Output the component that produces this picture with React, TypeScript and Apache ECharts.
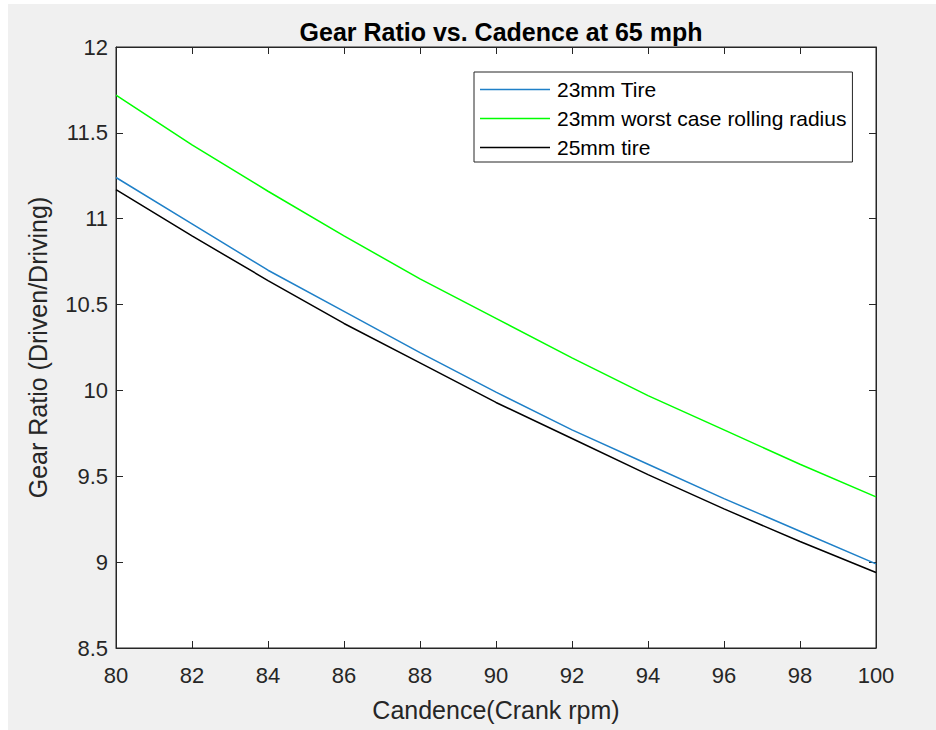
import React, { useEffect, useRef } from "react";
import * as echarts from "echarts";

const cadence = [80, 82, 84, 86, 88, 90, 92, 94, 96, 98, 100];
const tire23 = [11.24, 10.97, 10.70, 10.46, 10.22, 9.99, 9.77, 9.57, 9.37, 9.18, 8.99];
const tire23Worst = [11.72, 11.43, 11.16, 10.9, 10.65, 10.42, 10.19, 9.97, 9.77, 9.57, 9.38];
const tire25 = [11.17, 10.9, 10.64, 10.39, 10.16, 9.93, 9.72, 9.51, 9.31, 9.12, 8.94];
const seriesNames = ["23mm Tire", "23mm worst case rolling radius", "25mm tire"];

const FONT = "'Liberation Sans', Arial, Helvetica, sans-serif";
const AX = "#262626";
const BLUE = "#1f80c8";

export default function App() {
  const ref = useRef<HTMLDivElement>(null);
  useEffect(() => {
    document.body.style.margin = "0";
    const chart = echarts.init(ref.current!, null, { renderer: "svg" });
    const pair = (ys: number[]) => cadence.map((x, i) => [x, ys[i]]);
    const xBase = {
      type: "value" as const,
      min: 80,
      max: 100,
      interval: 2,
      splitLine: { show: false },
      axisLine: { show: true, lineStyle: { color: AX, width: 1 } },
      axisTick: { show: true, inside: true, length: 7, lineStyle: { color: AX } },
    };
    const yBase = {
      type: "value" as const,
      min: 8.5,
      max: 12,
      interval: 0.5,
      splitLine: { show: false },
      axisLine: { show: true, lineStyle: { color: AX, width: 1 } },
      axisTick: { show: true, inside: true, length: 7, lineStyle: { color: AX } },
    };
    chart.setOption({
      animation: false,
      backgroundColor: "transparent",
      graphic: [
        {
          type: "rect",
          z: -10,
          silent: true,
          shape: { x: 8, y: 4, width: 928, height: 726 },
          style: { fill: "#f0f0f0" },
        },
      ],
      title: {
        text: "Gear Ratio vs. Cadence at 65 mph",
        left: 496,
        textAlign: "center",
        top: 14,
        textStyle: { fontFamily: FONT, fontSize: 25, fontWeight: "bold", color: "#000" },
      },
      grid: {
        left: 116,
        right: 60,
        top: 47,
        bottom: 82,
        show: true,
        backgroundColor: "#ffffff",
        borderColor: AX,
        borderWidth: 1,
      },
      legend: {
        orient: "vertical",
        left: 474,
        top: 72,
        padding: [7, 6, 4, 6],
        itemWidth: 70,
        itemHeight: 1.5,
        itemGap: 8,
        icon: "rect",
        backgroundColor: "#ffffff",
        borderColor: AX,
        borderWidth: 1,
        borderRadius: 0,
        data: seriesNames,
        textStyle: { fontFamily: FONT, fontSize: 21, color: "#000", lineHeight: 20, padding: [0, 0, 0, 2] },
      },
      xAxis: [
        {
          ...xBase,
          position: "bottom",
          name: "Candence(Crank rpm)",
          nameLocation: "middle",
          nameGap: 49,
          nameTextStyle: { fontFamily: FONT, fontSize: 25, color: AX },
          axisLabel: { fontFamily: FONT, fontSize: 22, color: AX, margin: 16 },
        },
        { ...xBase, position: "top", axisLabel: { show: false } },
      ],
      yAxis: [
        {
          ...yBase,
          position: "left",
          name: "Gear Ratio (Driven/Driving)",
          nameLocation: "middle",
          nameGap: 66,
          nameTextStyle: { fontFamily: FONT, fontSize: 25, color: AX },
          axisLabel: { fontFamily: FONT, fontSize: 22, color: AX, margin: 8 },
        },
        { ...yBase, position: "right", axisLabel: { show: false } },
      ],
      series: [
        {
          name: seriesNames[0],
          type: "line",
          data: pair(tire23),
          symbol: "none",
          lineStyle: { color: BLUE, width: 1.5 },
          itemStyle: { color: BLUE },
        },
        {
          name: seriesNames[1],
          type: "line",
          data: pair(tire23Worst),
          symbol: "none",
          lineStyle: { color: "#00ff00", width: 1.5 },
          itemStyle: { color: "#00ff00" },
        },
        {
          name: seriesNames[2],
          type: "line",
          data: pair(tire25),
          symbol: "none",
          lineStyle: { color: "#000000", width: 1.5 },
          itemStyle: { color: "#000000" },
        },
      ],
    });
    return () => chart.dispose();
  }, []);
  return (
    <div
      ref={ref}
      style={{ position: "fixed", left: 0, top: 0, width: 936, height: 730, background: "#fff" }}
    />
  );
}
